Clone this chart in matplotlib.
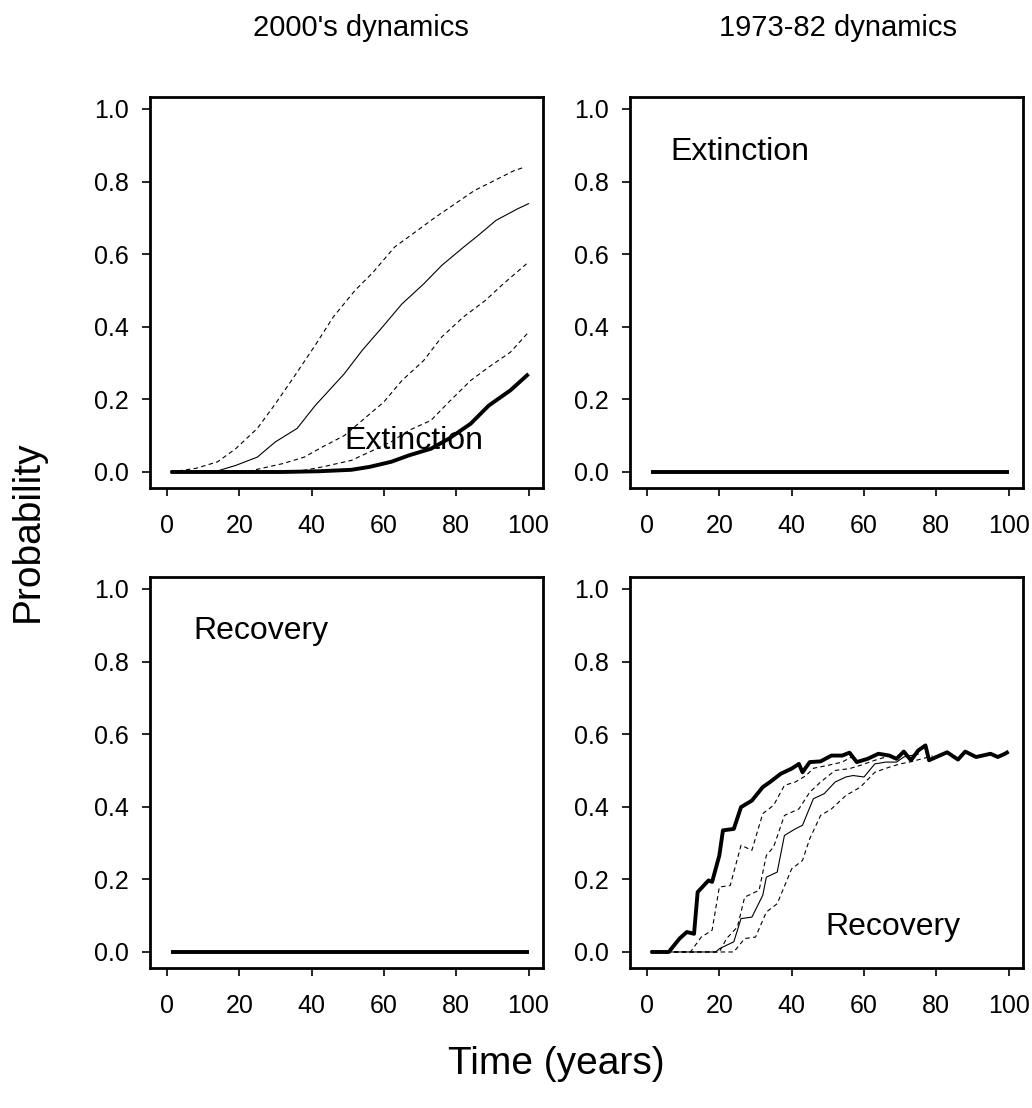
import matplotlib.pyplot as plt

plt.rcParams["font.family"] = ["Liberation Sans", "DejaVu Sans"]

# 2000's dynamics, extinction probability (top left)
ext_hi_x = [1, 8, 14, 19, 25, 30, 35, 41, 46, 52, 57, 63, 68, 74, 79, 85, 90, 96, 99]
ext_hi_y = [0, 0.01, 0.028, 0.064, 0.12, 0.188, 0.26, 0.349, 0.427, 0.5, 0.55,
            0.62, 0.656, 0.70, 0.734, 0.775, 0.80, 0.83, 0.84]
ext_mid_x = [1, 14, 19, 25, 30, 36, 41, 49, 54, 60, 65, 71, 76, 82, 86, 91, 97, 100]
ext_mid_y = [0, 0.003, 0.018, 0.041, 0.083, 0.12, 0.183, 0.27, 0.335, 0.404, 0.463,
             0.518, 0.569, 0.619, 0.651, 0.693, 0.725, 0.739]
ext_q2_x = [1, 23, 32, 38, 43, 49, 54, 60, 65, 71, 76, 82, 88, 93, 100]
ext_q2_y = [0, 0.003, 0.023, 0.041, 0.069, 0.10, 0.142, 0.193, 0.252, 0.307, 0.372,
            0.427, 0.472, 0.518, 0.578]
ext_lo_x = [1, 37, 43, 51, 56, 62, 67, 73, 78, 84, 89, 95, 100]
ext_lo_y = [0, 0.003, 0.014, 0.032, 0.055, 0.083, 0.115, 0.142, 0.193, 0.252, 0.289,
            0.33, 0.385]
ext_base_x = [1, 32, 42, 51, 56, 62, 67, 73, 78, 84, 89, 95, 100]
ext_base_y = [0, 0, 0.002, 0.006, 0.014, 0.028, 0.046, 0.064, 0.092, 0.133, 0.183,
              0.225, 0.27]

# flat panels (1973-82 extinction, 2000's recovery)
flat_x = [1, 100]
flat_y = [0, 0]

# 1973-82 dynamics, recovery probability (bottom right)
rec_base_x = [1, 6, 9, 11, 13, 14, 17, 18, 20, 21, 24, 26, 29, 32, 34, 37, 40, 42, 43,
              45, 48, 51, 54, 56, 58, 61, 64, 67, 69, 71, 73, 75, 77, 78, 80, 83, 86,
              88, 91, 95, 97, 99, 100]
rec_base_y = [0, 0, 0.037, 0.055, 0.05, 0.165, 0.197, 0.193, 0.266, 0.335, 0.339,
              0.399, 0.417, 0.454, 0.468, 0.491, 0.505, 0.518, 0.495, 0.523, 0.525,
              0.541, 0.541, 0.549, 0.523, 0.532, 0.546, 0.541, 0.532, 0.552, 0.528,
              0.555, 0.569, 0.528, 0.537, 0.55, 0.53, 0.552, 0.537, 0.546, 0.537,
              0.546, 0.552]
rec_mid_x = [1, 19, 20, 24, 26, 29, 32, 33, 36, 38, 41, 43, 46, 49, 52, 55, 57, 60, 63,
             66, 69, 71, 75]
rec_mid_y = [0, 0, 0.009, 0.028, 0.092, 0.096, 0.156, 0.206, 0.22, 0.321, 0.339, 0.349,
             0.422, 0.436, 0.468, 0.482, 0.486, 0.482, 0.518, 0.523, 0.523, 0.537, 0.545]
rec_d1_x = [1, 12, 15, 18, 20, 23, 26, 29, 32, 35, 38, 41, 44, 46, 50, 54, 57]
rec_d1_y = [0, 0, 0.041, 0.06, 0.179, 0.183, 0.294, 0.28, 0.381, 0.404, 0.459, 0.468,
            0.486, 0.506, 0.514, 0.523, 0.54]
rec_d2_x = [1, 20, 22, 25, 27, 31, 33, 35, 38, 42, 45, 48, 52, 56, 59, 63, 67]
rec_d2_y = [0, 0, 0.037, 0.069, 0.151, 0.17, 0.266, 0.289, 0.376, 0.394, 0.44, 0.468,
            0.50, 0.505, 0.514, 0.528, 0.54]
rec_d3_x = [1, 24, 27, 30, 33, 36, 40, 43, 45, 48, 51, 55, 59, 63, 67, 70, 73, 76, 79]
rec_d3_y = [0, 0, 0.037, 0.041, 0.11, 0.133, 0.229, 0.252, 0.312, 0.376, 0.394, 0.431,
            0.454, 0.495, 0.509, 0.518, 0.524, 0.532, 0.54]

x_ticks = [0, 20, 40, 60, 80, 100]
y_ticks = [0.0, 0.2, 0.4, 0.6, 0.8, 1.0]

THIN = dict(color="black", linewidth=0.8)
DASH = dict(color="black", linewidth=0.8, dashes=(4, 3))
THICK = dict(color="black", linewidth=2.8, solid_capstyle="butt")


def style_axes(ax):
    ax.set_xlim(-4.7, 103.9)
    ax.set_ylim(-0.044, 1.033)
    ax.set_xticks(x_ticks)
    ax.set_yticks(y_ticks)
    ax.set_xticklabels([str(t) for t in x_ticks])
    ax.set_yticklabels([f"{t:.1f}" for t in y_ticks])
    ax.tick_params(direction="out", length=6, width=1.2, labelsize=18)
    ax.tick_params(axis="x", pad=13)
    ax.tick_params(axis="y", pad=9)
    for s in ax.spines.values():
        s.set_linewidth(2)


fig = plt.figure(figsize=(10.32, 11.08), dpi=100)

left_x, right_x, w = 0.1453, 0.6105, 0.3805
top_y, bot_y, h = 0.5596, 0.1264, 0.3529

ax_tl = fig.add_axes([left_x, top_y, w, h])
ax_tr = fig.add_axes([right_x, top_y, w, h])
ax_bl = fig.add_axes([left_x, bot_y, w, h])
ax_br = fig.add_axes([right_x, bot_y, w, h])

ax_tl.plot(ext_hi_x, ext_hi_y, **DASH)
ax_tl.plot(ext_mid_x, ext_mid_y, **THIN)
ax_tl.plot(ext_q2_x, ext_q2_y, **DASH)
ax_tl.plot(ext_lo_x, ext_lo_y, **DASH)
ax_tl.plot(ext_base_x, ext_base_y, **THICK)
ax_tl.text(49, 0.085, "Extinction", fontsize=23, va="center", ha="left")

ax_tr.plot(flat_x, flat_y, **THICK)
ax_tr.text(6.4, 0.88, "Extinction", fontsize=23, va="center", ha="left")

ax_bl.plot(flat_x, flat_y, **THICK)
ax_bl.text(7.2, 0.884, "Recovery", fontsize=23, va="center", ha="left")

ax_br.plot(rec_d1_x, rec_d1_y, **DASH)
ax_br.plot(rec_d2_x, rec_d2_y, **DASH)
ax_br.plot(rec_d3_x, rec_d3_y, **DASH)
ax_br.plot(rec_mid_x, rec_mid_y, **THIN)
ax_br.plot(rec_base_x, rec_base_y, **THICK)
ax_br.text(49.4, 0.069, "Recovery", fontsize=23, va="center", ha="left")

for ax in (ax_tl, ax_tr, ax_bl, ax_br):
    style_axes(ax)

fig.text(361 / 1032, 1 - 28 / 1108, "2000's dynamics", fontsize=21, ha="center", va="center")
fig.text(838 / 1032, 1 - 28 / 1108, "1973-82 dynamics", fontsize=21, ha="center", va="center")
fig.text(28 / 1032, 1 - 531 / 1108, "Probability", fontsize=28, rotation=90,
         ha="center", va="center")
fig.text(556 / 1032, 1 - 1064 / 1108, "Time (years)", fontsize=28, ha="center", va="center")

fig.savefig("out.png", dpi=100)
plt.close(fig)
